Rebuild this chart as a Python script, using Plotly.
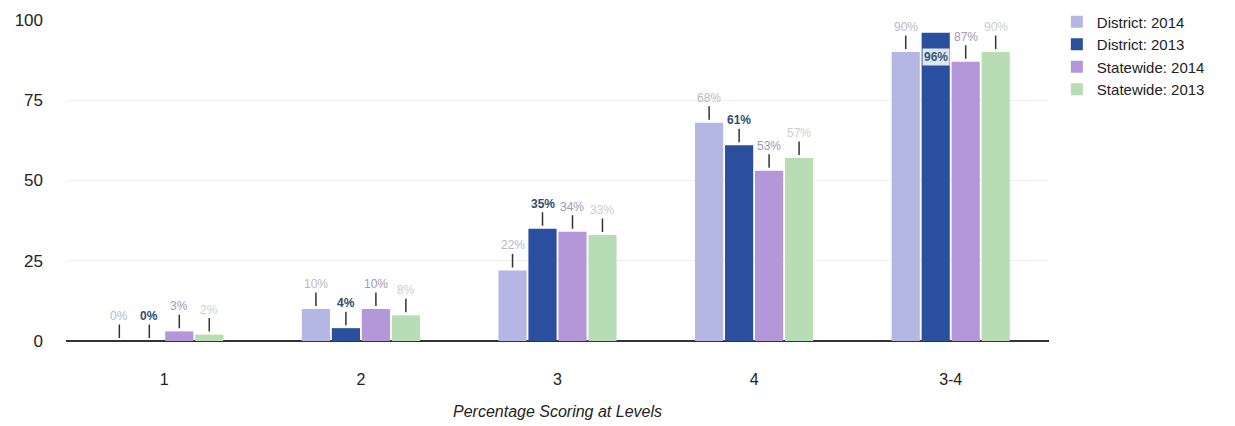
import plotly.graph_objects as go

categories = ["1", "2", "3", "4", "3-4"]
series_names = ["District: 2014", "District: 2013", "Statewide: 2014", "Statewide: 2013"]
district_2014 = [0, 10, 22, 68, 90]
district_2013 = [0, 4, 35, 61, 96]
statewide_2014 = [3, 10, 34, 53, 87]
statewide_2013 = [2, 8, 33, 57, 90]
y_ticks = [0, 25, 50, 75, 100]

values = [district_2014, district_2013, statewide_2014, statewide_2013]
colors = ["#b4b7e4", "#2a4f9e", "#b497d8", "#b8dcb4"]
label_colors = ["#b8b8c8", "#2f4d6e", "#a596b5", "#c5d3c5"]
label_bold = [False, True, False, False]

bargap = 0.39
n = len(values)

fig = go.Figure()
for name, vals, col in zip(series_names, values, colors):
    fig.add_trace(go.Bar(
        x=categories, y=vals, name=name,
        marker=dict(color=col, line=dict(width=0)),
    ))

annotations = []
bw = (1 - bargap) / n
for si, vals in enumerate(values):
    for ci, v in enumerate(vals):
        xpos = ci - (1 - bargap) / 2 + bw * (si + 0.5)
        txt = f"<b>{v}%</b>" if label_bold[si] else f"{v}%"
        if v >= 95:
            annotations.append(dict(
                x=xpos, y=v, xref="x", yref="y", text=txt, showarrow=False,
                yshift=-24, font=dict(size=12, color="#2f5d6e", family="Arial"),
                bgcolor="rgba(255,255,255,0.85)",
            ))
        else:
            annotations.append(dict(
                x=xpos, y=v, xref="x", yref="y", text=txt, showarrow=True,
                arrowhead=0, arrowwidth=1.5, arrowcolor="#333", ax=0, ay=-25,
                standoff=3, font=dict(size=12, color=label_colors[si], family="Arial"),
            ))

fig.update_layout(
    width=1227, height=418,
    margin=dict(l=58, r=186, t=12, b=85, autoexpand=False),
    paper_bgcolor="white", plot_bgcolor="white",
    barmode="group", bargap=bargap, bargroupgap=0.06,
    font=dict(family="Arial, Liberation Sans, sans-serif", size=15, color="#222"),
    xaxis=dict(
        type="category", showgrid=False, showline=False, ticks="",
        tickfont=dict(size=16, color="#222"), ticklabelstandoff=27, automargin=False,
        title=dict(text="<i>Percentage Scoring at Levels</i>", font=dict(size=16, color="#222"), standoff=18),
    ),
    yaxis=dict(
        range=[0, 100], tickvals=y_ticks, showgrid=True, gridcolor="#f0f0f0",
        zeroline=True, zerolinecolor="#333", zerolinewidth=2, showline=False,
        tickfont=dict(size=17, color="#222"), ticklabelstandoff=22, automargin=False,
    ),
    legend=dict(
        x=1.008, y=1.045, xanchor="left", yanchor="top",
        font=dict(size=15, color="#222"), tracegroupgap=2, itemwidth=30,
    ),
    annotations=annotations,
)

fig.write_html("out.html")
